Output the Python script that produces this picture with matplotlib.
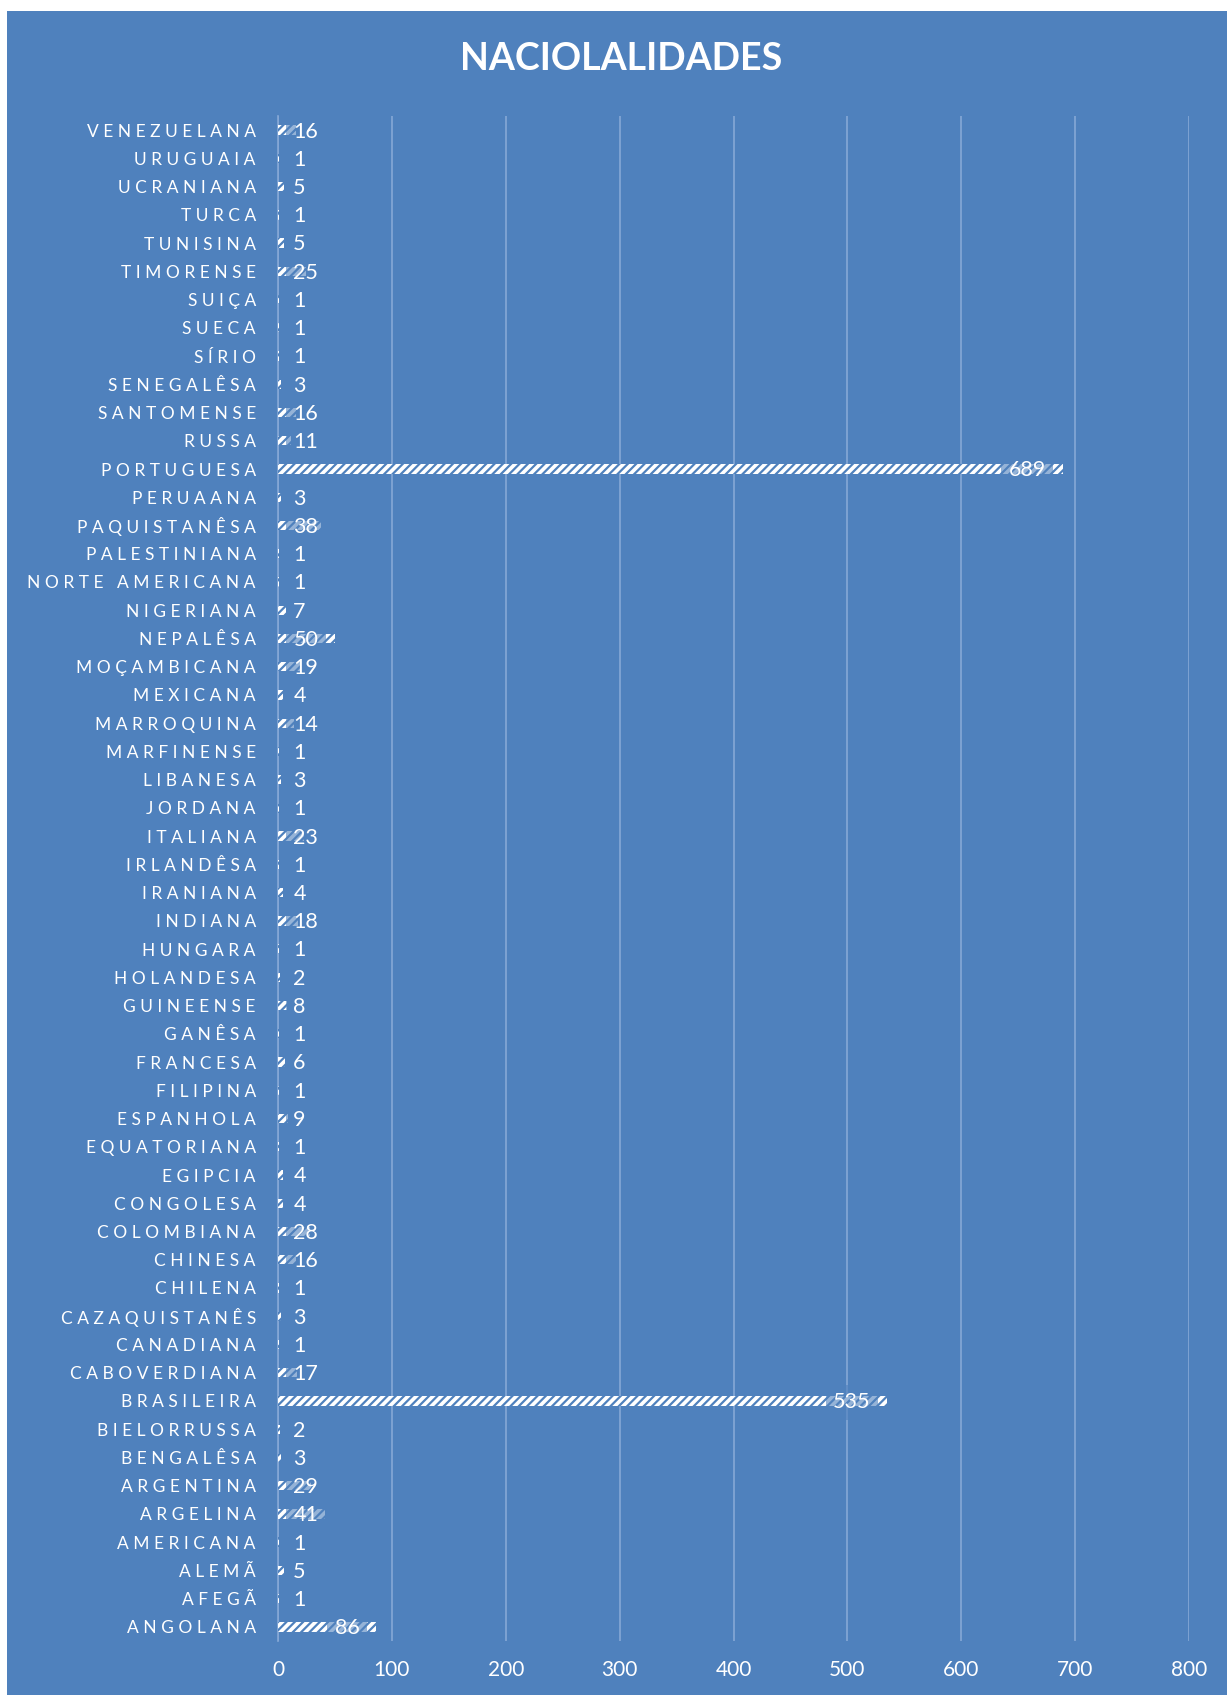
"""Horizontal bar chart of nationalities (Excel-style blue panel)."""
import matplotlib
matplotlib.use("Agg")
import matplotlib.pyplot as plt
from matplotlib.patches import Rectangle

# categories listed bottom -> top, as drawn on the y axis
nationalities = [
    "ANGOLANA", "AFEGÃ", "ALEMÃ", "AMERICANA", "ARGELINA", "ARGENTINA",
    "BENGALÊSA", "BIELORRUSSA", "BRASILEIRA", "CABOVERDIANA", "CANADIANA",
    "CAZAQUISTANÊS", "CHILENA", "CHINESA", "COLOMBIANA", "CONGOLESA",
    "EGIPCIA", "EQUATORIANA", "ESPANHOLA", "FILIPINA", "FRANCESA", "GANÊSA",
    "GUINEENSE", "HOLANDESA", "HUNGARA", "INDIANA", "IRANIANA", "IRLANDÊSA",
    "ITALIANA", "JORDANA", "LIBANESA", "MARFINENSE", "MARROQUINA", "MEXICANA",
    "MOÇAMBICANA", "NEPALÊSA", "NIGERIANA", "NORTE AMERICANA", "PALESTINIANA",
    "PAQUISTANÊSA", "PERUAANA", "PORTUGUESA", "RUSSA", "SANTOMENSE",
    "SENEGALÊSA", "SÍRIO", "SUECA", "SUIÇA", "TIMORENSE", "TUNISINA", "TURCA",
    "UCRANIANA", "URUGUAIA", "VENEZUELANA",
]
counts = [
    86, 1, 5, 1, 41, 29,
    3, 2, 535, 17, 1,
    3, 1, 16, 28, 4,
    4, 1, 9, 1, 6, 1,
    8, 2, 1, 18, 4, 1,
    23, 1, 3, 1, 14, 4,
    19, 50, 7, 1, 1,
    38, 3, 689, 11, 16,
    3, 1, 1, 1, 25, 5, 1,
    5, 1, 16,
]
x_ticks = [0, 100, 200, 300, 400, 500, 600, 700, 800]

BLUE = "#4F81BD"
GRID = "#86A8D6"
FONT = "Lato"

plt.rcParams["font.family"] = [FONT, "DejaVu Sans"]
plt.rcParams["hatch.color"] = BLUE
plt.rcParams["hatch.linewidth"] = 1.6

W, H, DPI = 1227, 1695, 100
fig = plt.figure(figsize=(W / DPI, H / DPI), dpi=DPI)
fig.patch.set_facecolor("white")
fig.patches.append(Rectangle((7 / W, 0), 1 - 7 / W, 1 - 11 / H,
                             transform=fig.transFigure, facecolor=BLUE,
                             edgecolor="none", zorder=-10))

ax = fig.add_axes([278 / W, 54 / H, (1189 - 278) / W, (1641 - 116) / H])
ax.set_facecolor("none")
ax.set_zorder(2)

ypos = list(range(len(nationalities)))
ax.barh(ypos, counts, height=0.33, color="white", edgecolor=BLUE,
        linewidth=0, hatch="////", zorder=3)

ax.set_xlim(0, 800)
ax.set_ylim(-0.5, len(nationalities) - 0.5)
ax.set_xticks(x_ticks)
ax.set_xticklabels([str(t) for t in x_ticks], color="white", fontsize=15)
ax.set_yticks(ypos)
spaced = ["   ".join(" ".join(w) for w in name.split(" ")) for name in nationalities]
ax.set_yticklabels(spaced, color="white", fontsize=12.5)
ax.tick_params(axis="y", length=0, pad=16)
ax.tick_params(axis="x", length=0, pad=14)
ax.grid(axis="x", color=GRID, linewidth=1.2, zorder=1)
ax.set_axisbelow(True)
for side in ("top", "right", "bottom"):
    ax.spines[side].set_visible(False)
ax.spines["left"].set_color(GRID)
ax.spines["left"].set_linewidth(1.2)
ax.spines["left"].set_zorder(2)

# data labels: inside end, pushed right of the axis when the bar is short
px_per_unit = (1189 - 278) / 800
for y, v in zip(ypos, counts):
    txt = str(v)
    width_px = 11.5 * len(txt)
    if v * px_per_unit - 16 - width_px >= 15:
        xy, off, ha = (v, y), -12, "right"
    else:
        xy, off, ha = (0, y), 11, "left"
    ax.annotate(txt, xy=xy, xytext=(off, -1), textcoords="offset points",
                ha=ha, va="center", color="white", fontsize=15.5, zorder=5,
                bbox=dict(boxstyle="square,pad=0.35", facecolor=BLUE,
                          alpha=0.6, edgecolor="none"))

fig.text(621 / W, 1 - 59 / H, "NACIOLALIDADES", ha="center", va="center",
         color="white", fontsize=27, fontweight="bold")

fig.savefig("out.png", dpi=DPI)
